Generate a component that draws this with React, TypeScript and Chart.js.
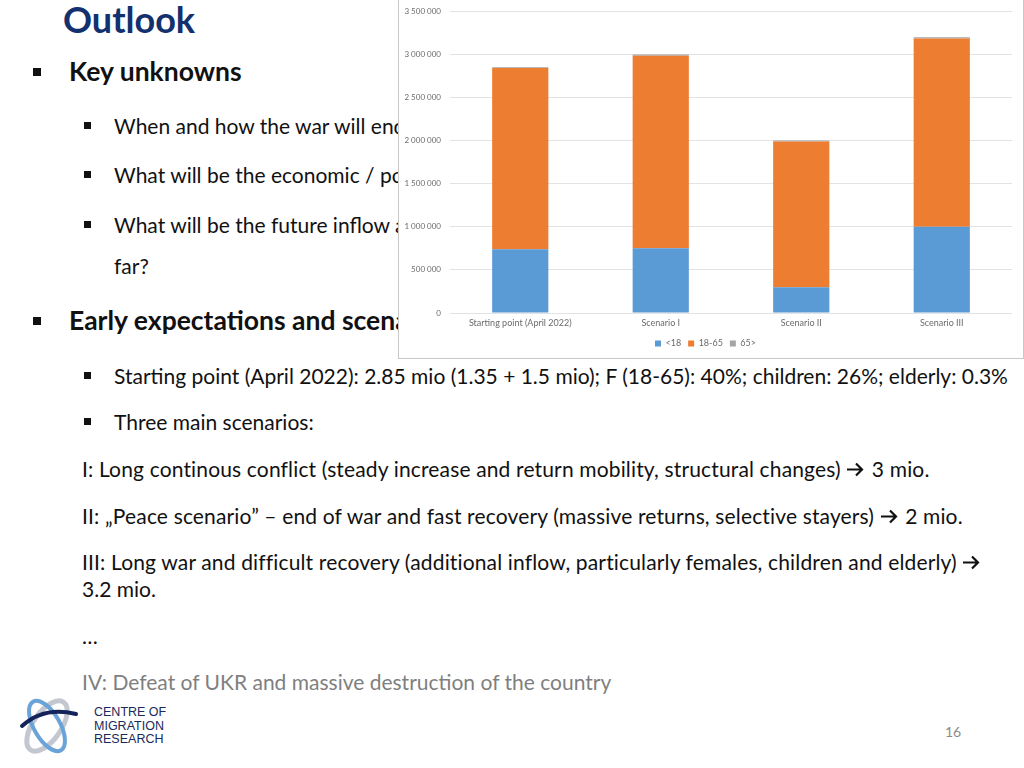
import React, { useEffect, useRef } from "react";
import { Chart, registerables } from "chart.js";

Chart.register(...registerables);

const categories = ["Starting point (April 2022)", "Scenario I", "Scenario II", "Scenario III"];
const under18 = [741000, 750000, 300000, 1000000];
const age18to65 = [2100450, 2235000, 1690000, 2185000];
const over65 = [8550, 15000, 10000, 15000];
const seriesLabels = ["<18", "18-65", "65>"];
const yTicksMax = 3500000;
const yTickStep = 500000;

const FONT = "Lato, 'Open Sans', sans-serif";

function BarChart() {
  const ref = useRef<HTMLCanvasElement | null>(null);
  useEffect(() => {
    if (!ref.current) return;
    const chart = new Chart(ref.current, {
      type: "bar",
      data: {
        labels: categories,
        datasets: [
          { label: seriesLabels[0], data: under18, backgroundColor: "#5B9BD5", barPercentage: 0.4, categoryPercentage: 1 },
          { label: seriesLabels[1], data: age18to65, backgroundColor: "#ED7D31", barPercentage: 0.4, categoryPercentage: 1 },
          { label: seriesLabels[2], data: over65, backgroundColor: "#A5A5A5", barPercentage: 0.4, categoryPercentage: 1 },
        ],
      },
      options: {
        animation: false,
        responsive: false,
        maintainAspectRatio: false,
        layout: { padding: { left: 0, right: 11, top: 11.3, bottom: 0 } },
        plugins: {
          tooltip: { enabled: false },
          legend: {
            position: "bottom",
            labels: {
              boxWidth: 6,
              boxHeight: 6,
              padding: 7,
              color: "#6b6b6b",
              font: { family: FONT, size: 9 },
            },
          },
        },
        scales: {
          x: {
            stacked: true,
            grid: { display: false, drawTicks: false },
            border: { display: false },
            ticks: { color: "#6b6b6b", font: { family: FONT, size: 9 }, padding: 5, maxRotation: 0 },
            afterFit: (s: any) => { s.height = 19; },
          },
          y: {
            stacked: true,
            min: 0,
            max: yTicksMax,
            grid: { color: "#e3e3e3", drawTicks: true, tickLength: 9, tickColor: "rgba(0,0,0,0)" },
            border: { display: false },
            ticks: {
              stepSize: yTickStep,
              color: "#6b6b6b",
              font: { family: FONT, size: 8 },
              padding: 0,
              callback: (v: any) => Number(v).toLocaleString("en-US").replace(/,/g, " "),
            },
            afterFit: (s: any) => { s.width = 51; },
          },
        },
      },
    });
    return () => chart.destroy();
  }, []);
  return <canvas ref={ref} width={624} height={358} style={{ display: "block" }} />;
}

type Line = { x: number; y: number; text: string; size: number; bold?: boolean; color?: string };

const lines: Line[] = [
  { x: 63, y: 19, text: "Outlook", size: 36, bold: true, color: "#13306f" },
  { x: 69, y: 71, text: "Key unknowns", size: 26.5, bold: true },
  { x: 114, y: 124.5, text: "When and how the war will end", size: 21 },
  { x: 114, y: 173.5, text: "What will be the economic / political", size: 21 },
  { x: 114, y: 223.5, text: "What will be the future inflow and", size: 21 },
  { x: 114, y: 264.5, text: "far?", size: 21 },
  { x: 69, y: 320, text: "Early expectations and scenarios", size: 26.5, bold: true },
  { x: 114, y: 374.5, text: "Starting point (April 2022): 2.85 mio (1.35 + 1.5 mio); F (18-65): 40%; children: 26%; elderly: 0.3%", size: 21 },
  { x: 114, y: 420.5, text: "Three main scenarios:", size: 21 },
  { x: 82, y: 634.5, text: "…", size: 21 },
  { x: 82, y: 680.5, text: "IV: Defeat of UKR and massive destruction of the country", size: 21, color: "#7f7f7f" },
  { x: 945, y: 732, text: "16", size: 14, color: "#8a8a8a" },
];

const arrowLines = [
  { x: 82, y: 467.5, before: "I: Long continous conflict (steady increase and return mobility, structural changes) ", after: " 3 mio." },
  { x: 82, y: 514.5, before: "II: \u201EPeace scenario\u201D \u2013 end of war and fast recovery (massive returns, selective stayers) ", after: " 2 mio." },
  { x: 82, y: 560.5, before: "III: Long war and difficult recovery (additional inflow, particularly females, children and elderly) ", after: "" },
];

const bullets = [
  { x: 33, y: 72, s: 8 },
  { x: 84, y: 125, s: 7 },
  { x: 84, y: 174, s: 7 },
  { x: 84, y: 224, s: 7 },
  { x: 33, y: 320.5, s: 8 },
  { x: 84, y: 375, s: 7 },
  { x: 84, y: 421, s: 7 },
];

function Arrow() {
  return (
    <svg width="18" height="16" viewBox="0 0 18 16" style={{ display: "inline-block", verticalAlign: "-1px", marginRight: 2 }}>
      <path d="M1 8 H16 M10 2 L16 8 L10 14" stroke="#111" strokeWidth="2.2" fill="none" />
    </svg>
  );
}

export default function App() {
  return (
    <div style={{ position: "absolute", left: 0, top: 0, width: 1024, height: 768, background: "#fff", overflow: "hidden", fontFamily: FONT, color: "#111" }}>
      {lines.map((l, i) => (
        <div key={i} style={{ position: "absolute", left: l.x, top: l.y, transform: "translateY(-50%)", fontSize: l.size, lineHeight: 1, fontWeight: l.bold ? 700 : 400, color: l.color || "#111", whiteSpace: "nowrap" }}>
          {l.text}
        </div>
      ))}
      {arrowLines.map((l, i) => (
        <div key={"a" + i} style={{ position: "absolute", left: l.x, top: l.y, transform: "translateY(-50%)", fontSize: 21, lineHeight: 1, whiteSpace: "nowrap", letterSpacing: "0.15px" }}>
          {l.before}<Arrow />{l.after}
        </div>
      ))}
      <div style={{ position: "absolute", left: 82, top: 587.5, transform: "translateY(-50%)", fontSize: 21, lineHeight: 1, whiteSpace: "nowrap" }}>3.2 mio.</div>
      {bullets.map((b, i) => (
        <div key={"b" + i} style={{ position: "absolute", left: b.x, top: b.y - b.s / 2, width: b.s, height: b.s, background: "#111" }} />
      ))}
      <div style={{ position: "absolute", left: 398, top: 0, width: 624, height: 358, background: "#fff", borderLeft: "1px solid #c8c8c8", borderRight: "1px solid #c8c8c8", borderBottom: "1px solid #c8c8c8" }}>
        <BarChart />
      </div>
      <svg style={{ position: "absolute", left: 14, top: 692 }} width="66" height="68" viewBox="0 0 66 68">
        <ellipse cx="33" cy="34" rx="14" ry="29" transform="rotate(35 33 34)" stroke="#c3c7cf" strokeWidth="5" fill="none" />
        <ellipse cx="33" cy="34" rx="13" ry="28" transform="rotate(-30 33 34)" stroke="#6aa3d8" strokeWidth="4" fill="none" />
        <path d="M8 34 Q 30 14 62 22" stroke="#14245a" strokeWidth="4" fill="none" strokeLinecap="round" />
      </svg>
      <div style={{ position: "absolute", left: 94, top: 706, fontFamily: "'Liberation Sans', Arial, sans-serif", fontSize: 12.5, lineHeight: "13.5px", color: "#1a2a5a" }}>
        CENTRE OF<br />MIGRATION<br />RESEARCH
      </div>
    </div>
  );
}
